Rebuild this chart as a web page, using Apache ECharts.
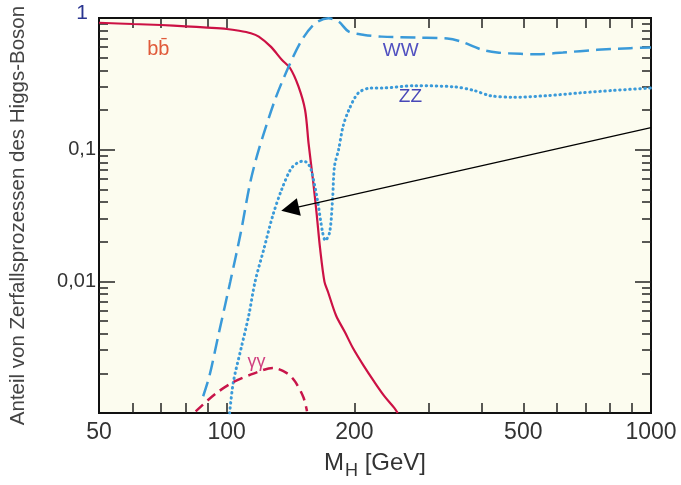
<!DOCTYPE html>
<html>
<head>
<meta charset="utf-8">
<script src="https://cdn.jsdelivr.net/npm/echarts@6/dist/echarts.min.js"></script>
<style>
html,body{margin:0;padding:0;background:#fff;}
#c{width:681px;height:485px;}
</style>
</head>
<body>
<div id="c"></div>
<script>
// ---- data (Higgs mass in GeV, branching ratio) ----
const massBB = [50, 60, 70, 80, 90, 100, 107, 114, 119, 127, 135, 141, 147.6, 153, 156, 160, 163, 166, 170, 173.3, 181, 190, 198.5, 210, 222.6, 235, 248.5, 253];
const brBB   = [0.92, 0.9, 0.885, 0.865, 0.845, 0.825, 0.8, 0.766, 0.722, 0.606, 0.48, 0.417, 0.302, 0.2, 0.11, 0.056, 0.032, 0.0177, 0.0099, 0.0083, 0.0055, 0.0041, 0.0031, 0.0023, 0.00173, 0.00135, 0.00109, 0.001];

const massWW = [88, 91, 96, 102, 108, 113.6, 119, 130, 140, 150.4, 161.6, 173.7, 183.5, 194, 211, 232, 280, 331, 357, 396, 434, 492, 536, 620, 746, 894, 1000];
const brWW   = [0.00134, 0.0019, 0.00416, 0.01, 0.0237, 0.0563, 0.1, 0.24, 0.428, 0.682, 0.912, 0.995, 0.94, 0.788, 0.744, 0.722, 0.71, 0.70, 0.662, 0.58, 0.547, 0.534, 0.53, 0.547, 0.573, 0.59, 0.596];

const massZZ = [101.6, 103.7, 108.2, 112.7, 116.6, 122.4, 128.4, 134.8, 141.5, 146.5, 151.7, 155, 158, 163.5, 168.2, 170.8, 174.9, 177.6, 179.5, 183.5, 188, 194, 204.4, 219, 232, 277, 344, 382, 418, 474, 567, 681, 817, 1000];
const brZZ   = [0.001, 0.00173, 0.00313, 0.0055, 0.0099, 0.0177, 0.0316, 0.05, 0.071, 0.079, 0.082, 0.079, 0.071, 0.042, 0.0237, 0.0204, 0.0237, 0.042, 0.075, 0.1, 0.15, 0.2, 0.27, 0.294, 0.294, 0.306, 0.30, 0.282, 0.257, 0.25, 0.257, 0.27, 0.282, 0.294];

const massGG = [84.5, 94.1, 104.1, 116.1, 128.4, 138.9, 145, 151.7, 154.6];
const brGG   = [0.00103, 0.0014, 0.00173, 0.002, 0.0022, 0.002, 0.00173, 0.00131, 0.00103];

// ---- axis ticks / labels ----
const xTickLabels = [50, 100, 200, 500, 1000];
const xTicks = [60, 70, 80, 90, 100, 200, 300, 400, 500, 600, 700, 800, 900];
const yTickLabels = [0.01, 0.1, 1];
const yMajorTicks = [0.01, 0.1];
const yMinorTicks = [0.002, 0.003, 0.004, 0.005, 0.006, 0.007, 0.008, 0.009,
                     0.02, 0.03, 0.04, 0.05, 0.06, 0.07, 0.08, 0.09,
                     0.2, 0.3, 0.4, 0.5, 0.6, 0.7, 0.8, 0.9];

// ---- series name labels and arrow annotation (data coordinates) ----
const curveLabels = ['bb\u0304', 'WW', 'ZZ', '\u03b3\u03b3'];
const arrowFrom = [1000, 0.147];
const arrowTo = [141, 0.0355];

const zip = (a, b) => a.map((v, i) => [v, b[i]]);

const FONT = 'Liberation Sans, Arial, sans-serif';
const axisLineStyle = { show: true, lineStyle: { color: '#111', width: 2 } };

function xAxisDef(pos, showLabels) {
  return {
    type: 'log', logBase: 10, min: 50, max: 1000, position: pos,
    axisLine: axisLineStyle,
    splitLine: { show: false },
    axisTick: { show: true, inside: true, length: 10, customValues: xTicks, lineStyle: { color: '#222', width: 1.5 } },
    axisLabel: showLabels ? {
      show: true, customValues: xTickLabels, fontSize: 23, color: '#333', fontFamily: FONT, margin: 8,
      formatter: v => String(Math.round(v))
    } : { show: false },
    name: showLabels ? '{a|M}{b|H}{a| [GeV]}' : '',
    nameLocation: 'middle', nameGap: 38,
    nameTextStyle: {
      fontFamily: FONT, color: '#333',
      rich: {
        a: { fontSize: 24, fontFamily: FONT, color: '#333', verticalAlign: 'top', lineHeight: 26 },
        b: { fontSize: 18, fontFamily: FONT, color: '#333', verticalAlign: 'top', lineHeight: 26, padding: [11, 0, 0, 1] }
      }
    }
  };
}

function yAxisDef(pos, ticks, len, withLabels) {
  const ax = {
    type: 'log', logBase: 10, min: 0.001, max: 1, position: pos,
    axisLine: axisLineStyle,
    splitLine: { show: false },
    axisTick: { show: true, inside: true, length: len, customValues: ticks, lineStyle: { color: '#222', width: 1.5 } },
    axisLabel: { show: false }
  };
  if (withLabels) {
    ax.axisLabel = {
      show: true, customValues: yTickLabels, fontSize: 20, color: '#333', fontFamily: FONT, margin: 3,
      formatter: v => (v >= 1 ? '{one|1}' : String(v).replace('.', ',')),
      rich: { one: { fontSize: 21, color: '#2a3590', fontFamily: FONT, padding: [0, 8, 10, 0] } }
    };
    ax.name = 'Anteil von Zerfallsprozessen des Higgs-Boson';
    ax.nameLocation = 'middle';
    ax.nameRotate = 90;
    ax.nameGap = 70;
    ax.nameTextStyle = { fontSize: 20.5, color: '#444', fontFamily: FONT };
  }
  return ax;
}

function textMark(x, y, text, color, size) {
  return {
    silent: true, symbol: 'circle', symbolSize: 2,
    itemStyle: { color: 'rgba(0,0,0,0)' },
    label: { show: true, position: 'inside', formatter: text, color: color, fontSize: size, fontFamily: FONT },
    data: [{ coord: [x, y], name: text }]
  };
}

const chart = echarts.init(document.getElementById('c'), null, { renderer: 'canvas' });
chart.setOption({
  animation: false,
  backgroundColor: '#fff',
  grid: { left: 96, right: 30, top: 18, bottom: 70, show: true, backgroundColor: '#fcfcef', borderColor: '#111', borderWidth: 2 },
  xAxis: [xAxisDef('bottom', true), xAxisDef('top', false)],
  yAxis: [
    yAxisDef('left', yMajorTicks, 16, true),
    yAxisDef('left', yMinorTicks, 9, false),
    yAxisDef('right', yMajorTicks, 16, false),
    yAxisDef('right', yMinorTicks, 9, false)
  ],
  series: [
    {
      name: 'bb', type: 'line', data: zip(massBB, brBB), showSymbol: false, smooth: 0.3,
      lineStyle: { color: '#cc1144', width: 2.2 }, clip: false,
      markPoint: textMark(69, 0.573, curveLabels[0], '#e05a3a', 20),
      markLine: {
        silent: true, symbol: ['none', 'triangle'], symbolSize: 18,
        label: { show: false },
        emphasis: { disabled: true },
        lineStyle: { color: '#000', width: 1.2, type: 'solid' },
        itemStyle: { color: '#000' },
        data: [[{ coord: arrowFrom }, { coord: arrowTo }]]
      }
    },
    {
      name: 'WW', type: 'line', data: zip(massWW, brWW), showSymbol: false, smooth: 0.3,
      lineStyle: { color: '#3a9ad9', width: 2.5, type: [15, 7] },
      markPoint: textMark(257, 0.563, curveLabels[1], '#5050c0', 19)
    },
    {
      name: 'ZZ', type: 'line', data: zip(massZZ, brZZ), showSymbol: false, smooth: 0.3,
      lineStyle: { color: '#3a9ad9', width: 3, type: [0.5, 4.5], cap: 'round' },
      markPoint: textMark(271, 0.253, curveLabels[2], '#4848b8', 19)
    },
    {
      name: 'gg', type: 'line', data: zip(massGG, brGG), showSymbol: false, smooth: 0.3,
      lineStyle: { color: '#c8154a', width: 2.5, type: [10, 6] },
      markPoint: textMark(117.5, 0.00244, curveLabels[3], '#d04080', 18)
    }
  ]
});
</script>
</body>
</html>
